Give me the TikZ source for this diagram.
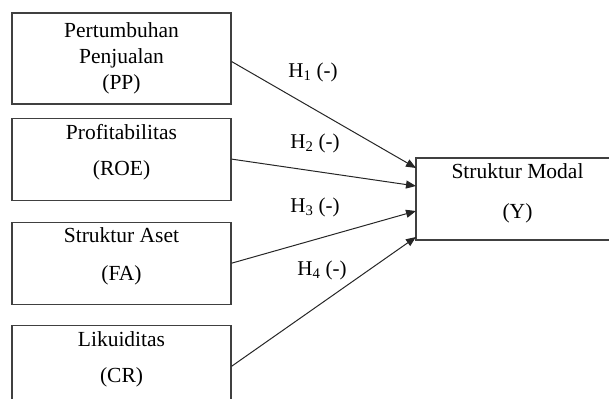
\documentclass[tikz,border=0pt]{standalone}
\usepackage{fontspec}
\setmainfont{Liberation Serif}
\usetikzlibrary{positioning,arrows.meta}

\begin{document}
\begin{tikzpicture}[x=1pt, y=-1pt, node distance=13pt,
		b/.style={draw=black!75, line width=1.1pt, minimum width=219pt, minimum height=82pt, inner sep=0pt},
		t/.style={align=center, font=\fontsize{21.5}{26}\selectfont},
		h/.style={font=\fontsize{21}{24}\selectfont, inner sep=0pt},
		a/.style={-{Triangle[length=10pt, width=8pt]}, line width=1pt, black!85}]
		\useasboundingbox (0,0) rectangle (609,398);
		\clip (0,0) rectangle (609,398);

		\node[b, minimum height=91pt] (pp) at (121.5,58.5) {};
		\node[b, below=of pp] (roe) {};
		\node[b, below=21pt of roe] (fa) {};
		\node[b, below=20pt of fa] (cr) {};
		\node[b, minimum width=203pt] (y) at (517.5,199) {};

		\node[t] (ppt) at (pp.center) {Pertumbuhan\\Penjualan\\(PP)};
		\node[t] (roet) at ([yshift=7pt]roe.center) {Profitabilitas\\[10pt](ROE)};
		\node[t] (fat) at ([yshift=7pt]fa.center) {Struktur Aset\\[12pt](FA)};
		\node[t] (crt) at ([yshift=7pt]cr.center) {Likuiditas\\[10pt](CR)};
		\node[t] (yt) at ([yshift=6pt]y.center) {Struktur Modal\\[14pt](Y)};

		\coordinate (y1) at (416,168);
		\coordinate (y2) at (416,186);
		\coordinate (y3) at (416,211);
		\coordinate (y4) at (416,237);

		\path[a] ([yshift=-3pt]pp.east) edge (y1);
		\path[a] (roe.east) edge (y2);
		\path[a] (fa.east) edge (y3);
		\path[a] (cr.east) edge (y4);

		\node[h] (h1) at (313,72) {H\textsubscript{1} (-)};
		\node[h] (h2) at (315,143) {H\textsubscript{2} (-)};
		\node[h] (h3) at (315,207) {H\textsubscript{3} (-)};
		\node[h] (h4) at (322,270) {H\textsubscript{4} (-)};
	\end{tikzpicture}
\end{document}
